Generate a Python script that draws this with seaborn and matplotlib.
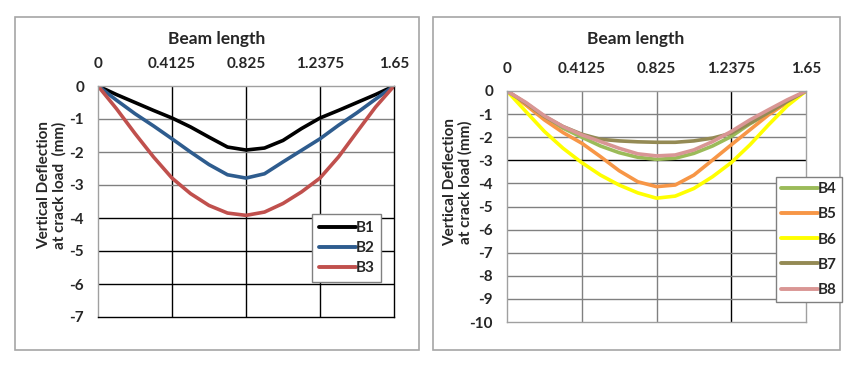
import matplotlib
matplotlib.use('Agg')
import matplotlib.pyplot as plt
import seaborn as sns
import pandas as pd
from matplotlib.patches import Rectangle

# data (deflection in mm along the beam)
x_pos = [0, 0.103125, 0.20625, 0.309375, 0.4125, 0.515625, 0.61875, 0.721875,
         0.825, 0.928125, 1.03125, 1.134375, 1.2375, 1.340625, 1.44375,
         1.546875, 1.65]
x_ticks = [0, 0.4125, 0.825, 1.2375, 1.65]
x_labels = ['0', '0.4125', '0.825', '1.2375', '1.65']

b1 = [0, -0.26, -0.5, -0.74, -0.97, -1.24, -1.55, -1.85, -1.94,
      -1.88, -1.65, -1.29, -0.97, -0.74, -0.5, -0.26, 0]
b2 = [0, -0.43, -0.84, -1.21, -1.6, -2.0, -2.38, -2.69, -2.79,
      -2.66, -2.3, -1.95, -1.6, -1.19, -0.81, -0.4, 0]
b3 = [0, -0.69, -1.44, -2.15, -2.79, -3.26, -3.62, -3.85, -3.92,
      -3.82, -3.56, -3.21, -2.79, -2.15, -1.39, -0.64, 0]

b4 = [0, -0.55, -1.13, -1.61, -2.0, -2.38, -2.67, -2.87, -2.96,
      -2.91, -2.7, -2.38, -1.97, -1.42, -0.96, -0.49, 0]
b5 = [0, -0.6, -1.25, -1.8, -2.26, -2.84, -3.45, -3.93, -4.14,
      -4.07, -3.64, -2.99, -2.33, -1.68, -1.03, -0.49, 0]
b6 = [0, -0.88, -1.75, -2.48, -3.1, -3.64, -4.07, -4.41, -4.64,
      -4.55, -4.22, -3.71, -3.1, -2.33, -1.46, -0.64, 0]
b7 = [0, -0.52, -1.1, -1.54, -1.87, -2.09, -2.16, -2.2, -2.22,
      -2.22, -2.16, -2.04, -1.83, -1.39, -0.93, -0.45, 0]
b8 = [0, -0.49, -1.07, -1.54, -1.9, -2.19, -2.48, -2.72, -2.81,
      -2.77, -2.55, -2.19, -1.75, -1.25, -0.81, -0.38, 0]

left_series = {'B1': b1, 'B2': b2, 'B3': b3}
right_series = {'B4': b4, 'B5': b5, 'B6': b6, 'B7': b7, 'B8': b8}
colors = {'B1': '#000000', 'B2': '#2E5C8E', 'B3': '#C0504D',
          'B4': '#9BBB59', 'B5': '#F79646', 'B6': '#FFFF00',
          'B7': '#948A54', 'B8': '#D99694'}

sns.set_style('white')
plt.rcParams['font.family'] = ['Lato', 'DejaVu Sans']
plt.rcParams['font.weight'] = 'bold'

fig = plt.figure(figsize=(8.64, 3.67), dpi=100)

# outer chart frames
for x0, w in [(15, 404), (433, 407)]:
    fig.patches.append(Rectangle((x0 / 864, 1 - 350 / 367), w / 864, 333 / 367,
                                 transform=fig.transFigure, fill=False,
                                 edgecolor='#A6A6A6', linewidth=1.2))


def make_df(series):
    rows = []
    for name, vals in series.items():
        for xv, yv in zip(x_pos, vals):
            rows.append({'x': xv, 'y': yv, 'beam': name})
    return pd.DataFrame(rows)


def draw(ax, series, ymin, gridcol_x, gridcol_y, spine_col):
    df = make_df(series)
    sns.lineplot(data=df, x='x', y='y', hue='beam', palette=colors, ax=ax,
                 linewidth=2.6, sort=False, estimator=None, legend=False)
    for ln in ax.get_lines():
        ln.set_solid_joinstyle('round')
    ax.set_xlim(0, 1.65)
    ax.set_ylim(ymin, 0)
    ax.set_xticks(x_ticks)
    ax.set_xticklabels(x_labels)
    yt = list(range(0, ymin - 1, -1))
    ax.set_yticks(yt)
    ax.set_yticklabels([str(v) for v in yt])
    ax.xaxis.tick_top()
    ax.tick_params(axis='x', length=0, pad=11, labelsize=11)
    ax.tick_params(axis='y', length=0, pad=10, labelsize=11)
    ax.set_xlabel('')
    ax.set_ylabel('')
    for xv, c in zip(x_ticks[1:-1], gridcol_x):
        ax.axvline(xv, color=c, linewidth=1, zorder=0.5)
    for yv, c in zip(yt[1:-1], gridcol_y):
        ax.axhline(yv, color=c, linewidth=1, zorder=0.5)
    for side, c in spine_col.items():
        ax.spines[side].set_color(c)
        ax.spines[side].set_linewidth(1)
    for lbl in ax.get_xticklabels() + ax.get_yticklabels():
        lbl.set_fontweight('bold')


ax1 = fig.add_axes([98 / 864, 1 - 317 / 367, 296 / 864, 231 / 367])
draw(ax1, left_series, -7,
     ['#000000'] * 3,
     ['#808080'] * 3 + ['#000000'] * 3,
     {'top': '#A0A0A0', 'left': '#A0A0A0', 'right': '#000000', 'bottom': '#000000'})

ax2 = fig.add_axes([507 / 864, 1 - 322 / 367, 299 / 864, 231 / 367])
draw(ax2, right_series, -10,
     ['#808080', '#808080', '#000000'],
     ['#808080', '#808080', '#000000'] + ['#808080'] * 6,
     {'top': '#A0A0A0', 'left': '#A0A0A0', 'right': '#A0A0A0', 'bottom': '#A0A0A0'})

# titles and axis labels
fig.text(217 / 864, 1 - 39 / 367, 'Beam length', ha='center', va='center',
         fontsize=12.5, fontweight='bold')
fig.text(636 / 864, 1 - 39 / 367, 'Beam length', ha='center', va='center',
         fontsize=12.5, fontweight='bold')
fig.text(52 / 864, 1 - 185 / 367, 'Vertical Deflection\nat crack load  (mm)',
         ha='center', va='center', rotation=90, fontsize=11,
         fontweight='bold', linespacing=1.05)
fig.text(458 / 864, 1 - 182 / 367, 'Vertical Deflection\nat crack load (mm)',
         ha='center', va='center', rotation=90, fontsize=11,
         fontweight='bold', linespacing=1.05)


def add_legend(names, box, spacing, pad, hlen):
    handles = [plt.Line2D([], [], color=colors[n], linewidth=2.8) for n in names]
    x0, y0 = box
    leg = fig.legend(handles, names, loc='upper left',
                     bbox_to_anchor=(x0 / 864, 1 - y0 / 367),
                     bbox_transform=fig.transFigure, frameon=True,
                     fancybox=False, edgecolor='#808080', framealpha=1,
                     handlelength=hlen, handletextpad=0.0,
                     labelspacing=spacing, borderpad=pad,
                     borderaxespad=0,
                     prop={'weight': 'bold', 'size': 11})
    leg.get_frame().set_linewidth(1)
    return leg


add_legend(list(left_series), (312, 214), 0.4, 0.45, 2.4)
add_legend(list(right_series), (776, 177), 0.73, 0.35, 2.4)

fig.savefig('out.png', dpi=100)
